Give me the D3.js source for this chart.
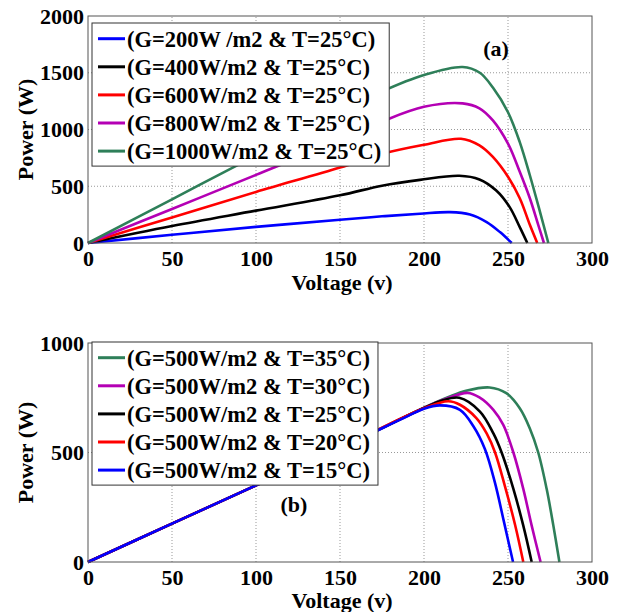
<!DOCTYPE html>
<html>
<head>
<meta charset="utf-8">
<script src="https://cdn.jsdelivr.net/npm/d3@7"></script>
<style>
body { margin: 0; background: #fff; }
</style>
</head>
<body>
<script>
// axis ticks
const voltageTicks = [0, 50, 100, 150, 200, 250, 300];
const powerTicksA = [0, 500, 1000, 1500, 2000];
const powerTicksB = [0, 500, 1000];

// panel (a) : irradiance changes, T = 25°C  -- [voltage, power]
const labelsA = ["(G=200W /m2 & T=25°C)", "(G=400W/m2 & T=25°C)", "(G=600W/m2 & T=25°C)",
                 "(G=800W/m2 & T=25°C)", "(G=1000W/m2 & T=25°C)"];
const colorsA = ["#0000ff", "#000000", "#ff0000", "#b400b4", "#2e7f59"];
const g200 = [[0,0],[50,72],[100,142],[150,205],[175,235],[197.6,258],[215.5,272],[227.4,251],[237.3,184],[245.2,96],[252.2,0]];
const g400 = [[0,0],[50,150],[100,285],[150,420],[175,505],[197.6,556],[221,592],[233,560],[243,462],[251,316],[257,140],[261.5,0]];
const g600 = [[0,0],[50,225],[100,450],[150,665],[175,785],[200,865],[222,918],[233,860],[241,758],[250,583],[257,394],[263,160],[267.4,0]];
const g800 = [[0,0],[50,300],[100,600],[150,905],[175,1070],[200,1200],[223,1230],[233,1187],[241,1080],[250,875],[257,627],[263,394],[268,160],[271.4,0]];
const g1000 = [[0,0],[50,385],[100,770],[150,1150],[175,1335],[200,1480],[223,1550],[233,1502],[241,1370],[250,1152],[257,889],[263,597],[269,277],[274,0]];

// panel (b) : temperature changes, G = 500 W/m2
const labelsB = ["(G=500W/m2 & T=35°C)", "(G=500W/m2 & T=30°C)", "(G=500W/m2 & T=25°C)",
                 "(G=500W/m2 & T=20°C)", "(G=500W/m2 & T=15°C)"];
const colorsB = ["#2e7f59", "#b400b4", "#000000", "#ff0000", "#0000ff"];
const t35 = [[0,0],[50,175],[100,350],[150,520],[200,705],[215,755],[225,782],[239,797],[249,771],[257,702],[263,610],[268,500],[273,334],[277,166],[280.6,0]];
const t30 = [[0,0],[50,175],[100,350],[150,520],[200,704],[212,742],[226,772],[233,752],[241.3,695],[247.2,626],[253.2,500],[259.1,334],[264.1,166],[269.4,0]];
const t25 = [[0,0],[50,175],[100,350],[150,520],[200,703],[210,735],[221,750],[233.3,687],[241.3,587],[246.2,500],[253.2,334],[259.1,166],[264.1,0]];
const t20 = [[0,0],[50,175],[100,350],[150,520],[200,702],[214.5,734],[221.4,718],[231.3,656],[237.3,587],[242.3,500],[248.2,345],[254.2,170],[259.1,0]];
const t15 = [[0,0],[50,175],[100,350],[150,520],[190,665],[200,700],[209.5,715],[221.4,695],[229.4,620],[236.3,515],[242.3,360],[247.4,190],[253,0]];

const FONT = "Liberation Serif";

const svg = d3.select("body")
              .append("svg")
              .attr("width", 624)
              .attr("height", 612);

const x = d3.scaleLinear().domain([0, 300]).range([88, 592]);

// every text gets the serif face directly
function serif(sel, size) {
    return sel.style("font-family", FONT)
              .style("font-weight", "bold")
              .style("font-size", size + "px")
              .style("fill", "#000");
}

function drawPanel(yScale, yTicks, series, colors, labels, legendTop, tag, tagX, tagY, titleGap) {
    const g = svg.append("g");
    const [y0, y1] = yScale.range();

    // dotted grid
    g.selectAll(".vgrid")
     .data(voltageTicks.slice(1, -1))
     .enter()
     .append("line")
     .attr("x1", d => x(d)).attr("x2", d => x(d))
     .attr("y1", y0).attr("y2", y1)
     .attr("stroke", "#999").attr("stroke-dasharray", "1,2");

    g.selectAll(".hgrid")
     .data(yTicks.slice(1, -1))
     .enter()
     .append("line")
     .attr("x1", x.range()[0]).attr("x2", x.range()[1])
     .attr("y1", d => yScale(d)).attr("y2", d => yScale(d))
     .attr("stroke", "#999").attr("stroke-dasharray", "1,2");

    // curves
    const line = d3.line()
                   .x(d => x(d[0]))
                   .y(d => yScale(d[1]))
                   .curve(d3.curveCatmullRom.alpha(0.5));

    g.selectAll(".curve")
     .data(series)
     .enter()
     .append("path")
     .attr("d", line)
     .attr("fill", "none")
     .attr("stroke", (d, i) => colors[i])
     .attr("stroke-width", 2.6);

    // box
    g.append("rect")
     .attr("x", x.range()[0]).attr("y", y1)
     .attr("width", x.range()[1] - x.range()[0])
     .attr("height", y0 - y1)
     .attr("fill", "none")
     .attr("stroke", "#555");

    // axes
    const xAxis = g.append("g")
                   .attr("transform", `translate(0,${y0})`)
                   .call(d3.axisBottom(x).tickValues(voltageTicks).tickFormat(d3.format("d"))
                           .tickSize(0).tickPadding(7));
    xAxis.select(".domain").remove();
    serif(xAxis.selectAll("text"), 22);

    const yAxis = g.append("g")
                   .attr("transform", `translate(${x.range()[0]},0)`)
                   .call(d3.axisLeft(yScale).tickValues(yTicks).tickFormat(d3.format("d"))
                           .tickSize(0).tickPadding(4));
    yAxis.select(".domain").remove();
    serif(yAxis.selectAll("text"), 22);

    // axis titles
    serif(g.append("text"), 22)
     .attr("x", (x.range()[0] + x.range()[1]) / 2 + 2)
     .attr("y", y0 + titleGap)
     .attr("text-anchor", "middle")
     .text("Voltage (v)");

    serif(g.append("text"), 22)
     .attr("transform", `translate(33,${(y0 + y1) / 2}) rotate(-90)`)
     .attr("text-anchor", "middle")
     .text("Power (W)");

    serif(g.append("text"), 22)
     .attr("x", tagX).attr("y", tagY)
     .attr("text-anchor", "middle")
     .text(tag);

    // legend (drawn over the curves)
    const legend = g.append("g");
    const box = legend.append("rect")
                      .attr("fill", "#fff")
                      .attr("stroke", "#333");
    const rows = legend.selectAll(".row")
                       .data(labels)
                       .enter()
                       .append("g")
                       .attr("transform", (d, i) => `translate(0,${legendTop + 23.7 + i * 28.1})`);
    rows.append("line")
        .attr("x1", 98).attr("x2", 125)
        .attr("y1", -8).attr("y2", -8)
        .attr("stroke", (d, i) => colors[i])
        .attr("stroke-width", 3);
    const texts = serif(rows.append("text"), 22.5)
                      .attr("x", 127)
                      .text(d => d);
    const maxW = d3.max(texts.nodes(), n => n.getComputedTextLength());
    box.attr("x", 92).attr("y", legendTop)
       .attr("width", 127 + maxW + 8 - 92)
       .attr("height", 23.7 + 4 * 28.1 + 7);
}

drawPanel(d3.scaleLinear().domain([0, 2000]).range([243, 16]), powerTicksA,
          [g200, g400, g600, g800, g1000], colorsA, labelsA, 23, "(a)", 496, 56, 47);

// panel (b): plotted from 35°C down to 15°C so blue ends on top
drawPanel(d3.scaleLinear().domain([0, 1000]).range([562, 343]), powerTicksB,
          [t35, t30, t25, t20, t15], colorsB, labelsB, 342, "(b)", 294, 512, 46);
</script>
</body>
</html>
